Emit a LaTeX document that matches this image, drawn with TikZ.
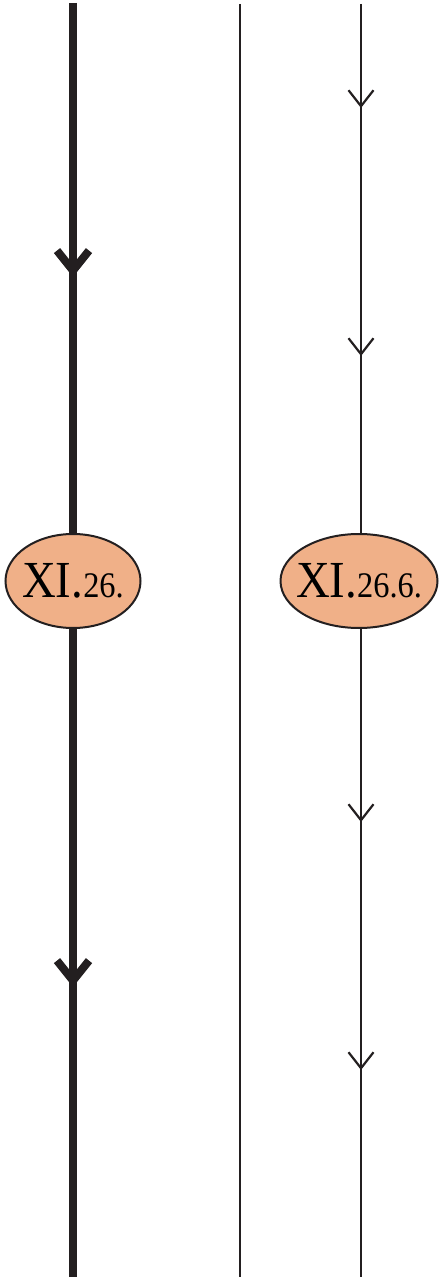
\documentclass[tikz,border=0pt]{standalone}
\usepackage{fontspec}
\setmainfont{Liberation Serif}
\usetikzlibrary{shapes.geometric,arrows.meta,decorations.markings}
\definecolor{peach}{RGB}{240,176,136}
\definecolor{ink}{RGB}{35,31,32}
\tikzset{
  stamp/.style={draw=ink, line width=1pt, fill=peach, ellipse, inner sep=0pt, minimum height=47pt},
  heavy/.style={draw=ink, line width=4pt},
  light/.style={draw=ink, line width=1.1pt},
  heavytip/.style={postaction={decorate, decoration={markings,
    mark=at position #1 with {\arrow[ink]{Straight Barb[length=10pt,width=16pt]}}}}},
  lighttip/.style={postaction={decorate, decoration={markings,
    mark=at position #1 with {\arrow[ink]{Straight Barb[length=8pt,width=12.5pt]}}}}}
}
\newcommand{\bigsec}{\fontsize{26}{26}\selectfont}
\newcommand{\smallsec}{\fontsize{18}{18}\selectfont}
\newcommand{\seclabel}[1]{\makebox[0pt]{\scalebox{0.9}[1]{#1}}}
\begin{document}
\begin{tikzpicture}[x=0.5pt, y=-0.5pt]
\useasboundingbox (0,0) rectangle (441,1277);

\coordinate (ltop) at (73,3);
\coordinate (lbot) at (73,1277);
\coordinate (mtop) at (240,4);
\coordinate (mbot) at (240,1277);
\coordinate (rtop) at (361,4);
\coordinate (rbot) at (361,1277);

\node[stamp, minimum width=67.5pt] (lell) at (73,581) {\seclabel{\bigsec XI.\smallsec 26.}};
\node[stamp, minimum width=78.5pt] (rell) at (359,581) {\seclabel{\bigsec XI.\smallsec 26.6.}};

\draw[heavy, heavytip=137pt] (ltop) -- (lell);
\draw[heavy, heavytip=179pt] (lell) -- (lbot);

\draw[light] (mtop) -- (mbot);

\draw[light, lighttip=52pt, lighttip=176pt] (rtop) -- (rtop |- rell.north);
\draw[light, lighttip=96.5pt, lighttip=220.5pt] (rtop |- rell.south) -- (rbot);
\end{tikzpicture}
\end{document}
